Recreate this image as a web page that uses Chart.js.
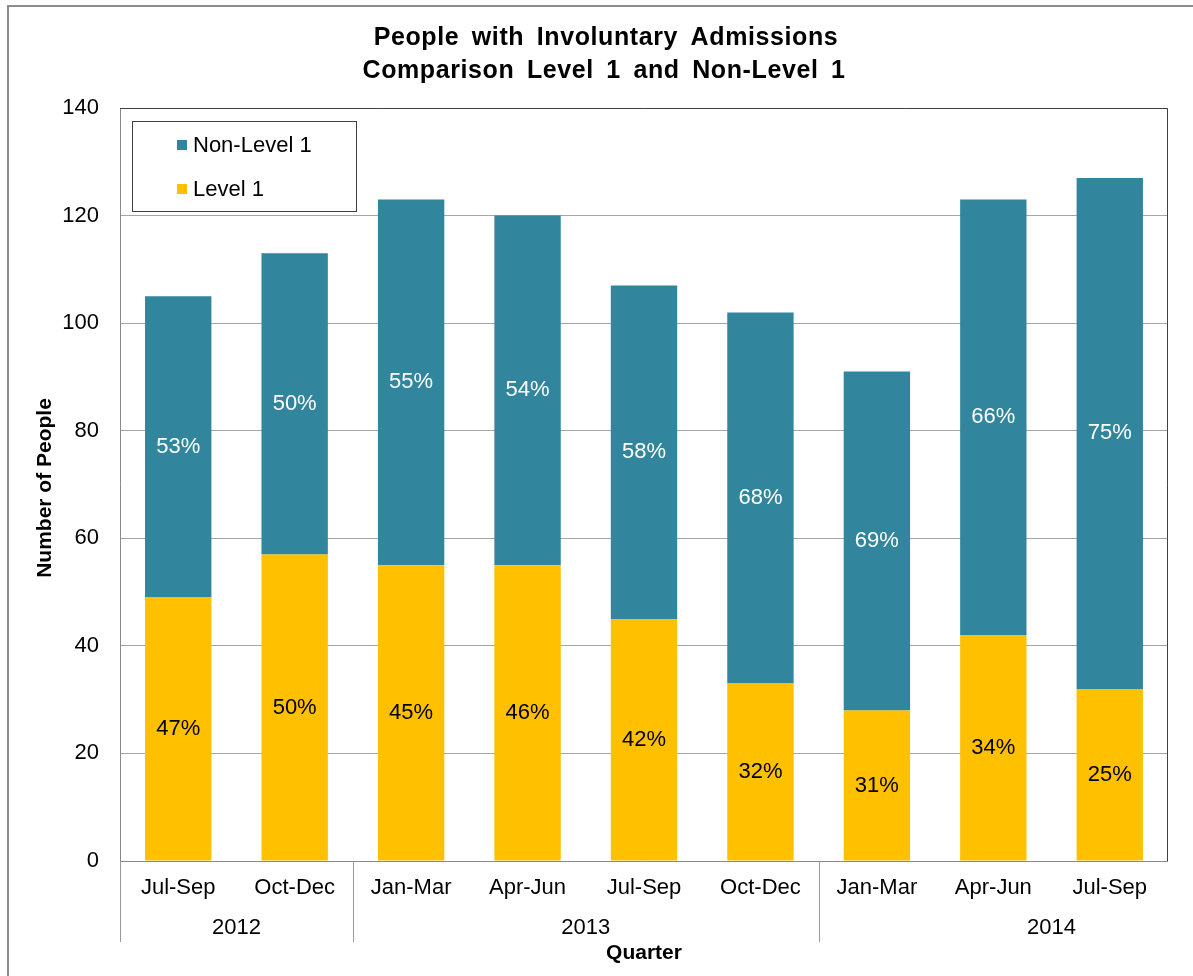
<!DOCTYPE html>
<html>
<head>
<meta charset="utf-8">
<script src="https://cdn.jsdelivr.net/npm/chart.js@4/dist/chart.umd.min.js"></script>
<style>
  html, body { margin: 0; padding: 0; background: #fff; overflow: hidden; }
  #chart { display: block; }
</style>
</head>
<body>
<canvas id="chart" width="1193" height="976"></canvas>
<script>
// data
var quarters = ['Jul-Sep', 'Oct-Dec', 'Jan-Mar', 'Apr-Jun', 'Jul-Sep', 'Oct-Dec', 'Jan-Mar', 'Apr-Jun', 'Jul-Sep'];
var years = ['2012', '2013', '2014'];
var yearSlots = [2, 4, 4]; // 2014 label is centred as if the year were complete
var level1 = [49, 57, 55, 55, 45, 33, 28, 42, 32];
var nonLevel1 = [56, 56, 68, 65, 62, 69, 63, 81, 95];
var level1Pct = ['47%', '50%', '45%', '46%', '42%', '32%', '31%', '34%', '25%'];
var nonLevel1Pct = ['53%', '50%', '55%', '54%', '58%', '68%', '69%', '66%', '75%'];
var yMax = 140, yStep = 20;

var FONT = '"Liberation Sans", Arial, sans-serif';
var TEAL = '#31859C', GOLD = '#FFC000';

var decor = {
    id: 'decor',
    beforeDraw: function (chart) {
        var ctx = chart.ctx;
        ctx.save();
        ctx.fillStyle = '#fff';
        ctx.fillRect(0, 0, chart.width, chart.height);
        // outer chart border (top and left show)
        ctx.strokeStyle = '#8c8c8c';
        ctx.lineWidth = 2;
        ctx.beginPath();
        ctx.moveTo(8, chart.height + 5);
        ctx.lineTo(8, 6);
        ctx.lineTo(chart.width + 5, 6);
        ctx.stroke();
        ctx.restore();
    },
    afterDatasetsDraw: function (chart) {
        var ctx = chart.ctx, a = chart.chartArea;
        var labels = [level1Pct, nonLevel1Pct];
        var colors = ['#000', '#fff'];
        ctx.save();
        ctx.font = '22px ' + FONT;
        ctx.textAlign = 'center';
        ctx.textBaseline = 'middle';
        chart.data.datasets.forEach(function (ds, d) {
            chart.getDatasetMeta(d).data.forEach(function (bar, i) {
                ctx.fillStyle = colors[d];
                ctx.fillText(labels[d][i], bar.x, (bar.y + bar.base) / 2);
            });
        });

        // plot frame
        ctx.lineWidth = 1;
        ctx.strokeStyle = '#898989';
        ctx.beginPath();
        ctx.moveTo(a.left + 0.5, a.top);
        ctx.lineTo(a.left + 0.5, a.bottom + 0.5);
        ctx.lineTo(a.right, a.bottom + 0.5);
        ctx.stroke();
        ctx.strokeStyle = '#404040';
        ctx.beginPath();
        ctx.moveTo(a.left, a.top + 0.5);
        ctx.lineTo(a.right - 0.5, a.top + 0.5);
        ctx.lineTo(a.right - 0.5, a.bottom);
        ctx.stroke();

        // legend box
        ctx.fillStyle = '#fff';
        ctx.fillRect(132, 121, 225, 91);
        ctx.strokeStyle = '#404040';
        ctx.strokeRect(132.5, 121.5, 224, 90);
        var items = [['Non-Level 1', TEAL, 145], ['Level 1', GOLD, 189]];
        ctx.textAlign = 'left';
        items.forEach(function (it) {
            ctx.fillStyle = it[1];
            ctx.fillRect(177, it[2] - 5, 10, 10);
            ctx.fillStyle = '#000';
            ctx.fillText(it[0], 193, it[2] + 1);
        });
        ctx.restore();
    },
    afterDraw: function (chart) {
        var ctx = chart.ctx, a = chart.chartArea, xs = chart.scales.x;
        var slot = (a.right - a.left) / quarters.length;
        ctx.save();
        ctx.fillStyle = '#000';
        ctx.textAlign = 'center';
        ctx.textBaseline = 'middle';
        ctx.font = '22px ' + FONT;
        quarters.forEach(function (q, i) {
            ctx.fillText(q, xs.getPixelForValue(i), a.bottom + 27);
        });

        // year groups with separators
        ctx.strokeStyle = '#9a9a9a';
        ctx.lineWidth = 1;
        var start = 0;
        years.forEach(function (y, k) {
            var x0 = xs.getPixelForValue(start) - slot / 2;
            ctx.beginPath();
            ctx.moveTo(Math.round(x0) + 0.5, a.bottom);
            ctx.lineTo(Math.round(x0) + 0.5, a.bottom + 81);
            ctx.stroke();
            ctx.fillText(y, x0 + slot * yearSlots[k] / 2, a.bottom + 67);
            start += yearSlots[k];
        });

        // axis titles
        ctx.font = 'bold 21px ' + FONT;
        ctx.fillText('Quarter', (a.left + a.right) / 2, a.bottom + 92);
        ctx.save();
        ctx.translate(45, 488);
        ctx.rotate(-Math.PI / 2);
        ctx.fillText('Number of People', 0, 0);
        ctx.restore();

        // chart title
        ctx.font = 'bold 25px ' + FONT;
        ctx.wordSpacing = '5px';
        ctx.letterSpacing = '0.6px';
        ctx.fillText('People with Involuntary Admissions', 606, 38);
        ctx.fillText('Comparison Level 1 and Non-Level 1', 604, 71);
        ctx.restore();
    }
};

new Chart(document.getElementById('chart'), {
    type: 'bar',
    data: {
        labels: quarters,
        datasets: [
            { label: 'Level 1', data: level1, backgroundColor: GOLD },
            { label: 'Non-Level 1', data: nonLevel1, backgroundColor: TEAL }
        ]
    },
    options: {
        responsive: false,
        animation: false,
        devicePixelRatio: 1,
        barPercentage: 0.57,
        categoryPercentage: 1,
        layout: { padding: { top: 108, right: 25, left: 0, bottom: 0 } },
        plugins: {
            legend: { display: false },
            title: { display: false },
            tooltip: { enabled: false }
        },
        scales: {
            x: {
                stacked: true,
                grid: { display: false },
                border: { display: false },
                ticks: { display: false },
                afterFit: function (s) { s.height = 115; }
            },
            y: {
                stacked: true,
                min: 0,
                max: yMax,
                ticks: {
                    stepSize: yStep,
                    color: '#000',
                    padding: 21,
                    font: { family: FONT, size: 22 }
                },
                grid: { color: '#a6a6a6', drawTicks: false },
                border: { display: false },
                afterFit: function (s) { s.width = 120; }
            }
        }
    },
    plugins: [decor]
});
</script>
</body>
</html>
